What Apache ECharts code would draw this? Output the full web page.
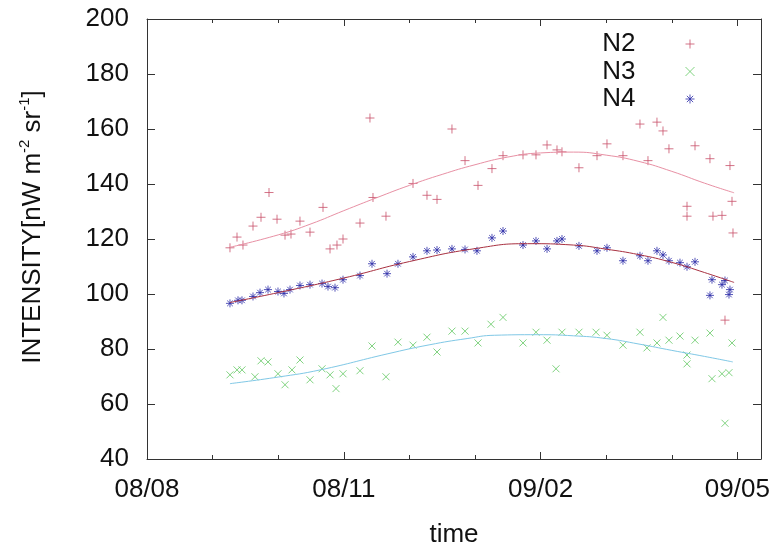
<!DOCTYPE html>
<html>
<head>
<meta charset="utf-8">
<style>
  html, body { margin: 0; padding: 0; background: #fff; }
  #chart { width: 776px; height: 553px; }
</style>
<script src="https://cdn.jsdelivr.net/npm/echarts@6/dist/echarts.min.js"></script>
</head>
<body>
<div id="chart"></div>
<script>
// Time axis runs in sub-tick units: one labelled tick every 3 units.
const xTickLabels = ['08/08', '08/11', '09/02', '09/05'];
const xMax = 9.36;
const yTicks = [40, 60, 80, 100, 120, 140, 160, 180, 200];

// N2 intensity measurements [time, intensity]
const n2Points = [
  [1.265, 116.8], [1.372, 120.7], [1.463, 117.8], [1.616, 124.7], [1.738, 127.9],
  [1.860, 136.9], [1.982, 127.2], [2.104, 121.4], [2.195, 121.8], [2.332, 126.5],
  [2.485, 122.5], [2.683, 131.5], [2.790, 116.4], [2.896, 117.8], [2.988, 120.0],
  [3.247, 125.8], [3.399, 164.0], [3.445, 135.1], [3.643, 128.3], [4.055, 140.2],
  [4.268, 135.9], [4.421, 134.4], [4.649, 160.0], [4.848, 148.5],
  [5.046, 139.5], [5.259, 145.6], [5.427, 150.3], [5.732, 150.6], [5.930, 150.6],
  [6.098, 154.2], [6.250, 152.4], [6.326, 151.7], [6.585, 145.9], [6.860, 150.3],
  [7.012, 154.6], [7.256, 150.3], [7.515, 161.8], [7.637, 148.5], [7.774, 162.5],
  [7.866, 159.3], [7.957, 152.8], [8.232, 131.9], [8.232, 128.3], [8.354, 153.9],
  [8.582, 149.2], [8.628, 128.3], [8.765, 128.6], [8.811, 90.5], [8.887, 146.7],
  [8.918, 133.7], [8.933, 122.2]
];

// N3 intensity measurements
const n3Points = [
  [1.265, 70.6], [1.372, 72.4], [1.448, 72.4], [1.646, 69.9], [1.738, 75.7],
  [1.845, 75.3], [1.997, 71.0], [2.104, 67.0], [2.210, 72.4], [2.332, 76.0],
  [2.485, 68.8], [2.668, 72.8], [2.790, 70.6], [2.881, 65.6], [2.988, 71.0],
  [3.247, 72.1], [3.430, 81.1], [3.643, 69.9], [3.826, 82.5], [4.055, 81.4],
  [4.268, 84.3], [4.421, 78.9], [4.649, 86.5], [4.848, 86.5], [5.046, 82.2],
  [5.244, 89.0], [5.427, 91.5], [5.732, 82.2], [5.930, 86.1], [6.098, 83.2],
  [6.235, 72.8], [6.326, 86.1], [6.585, 86.1], [6.845, 86.1], [7.012, 85.0],
  [7.256, 81.4], [7.515, 86.1], [7.622, 80.4], [7.774, 82.2], [7.866, 91.5],
  [7.957, 83.2], [8.125, 84.7], [8.232, 77.8], [8.232, 74.6], [8.354, 83.2],
  [8.582, 85.8], [8.613, 69.2], [8.765, 71.0], [8.811, 53.0], [8.872, 71.4],
  [8.918, 82.2]
];

// N4 intensity measurements
const n4Points = [
  [1.265, 96.6], [1.387, 97.7], [1.448, 97.7], [1.616, 99.1], [1.723, 100.5],
  [1.845, 101.6], [1.997, 100.9], [2.088, 100.2], [2.180, 101.6], [2.332, 103.1],
  [2.485, 103.4], [2.668, 103.8], [2.759, 102.7], [2.866, 102.3], [2.988, 105.2],
  [3.247, 106.7], [3.430, 111.0], [3.659, 107.4], [3.826, 111.0], [4.055, 113.5],
  [4.268, 115.7], [4.421, 116.0], [4.649, 116.4], [4.848, 116.2], [5.030, 115.7],
  [5.259, 120.4], [5.427, 122.9], [5.732, 117.8], [5.930, 119.3], [6.098, 116.4],
  [6.250, 119.3], [6.326, 120.0], [6.585, 117.5], [6.860, 115.7], [7.012, 116.8],
  [7.256, 112.1], [7.515, 113.9], [7.637, 112.1], [7.774, 115.7], [7.866, 114.2],
  [7.957, 112.1], [8.125, 111.4], [8.232, 109.9], [8.354, 111.7], [8.582, 99.5],
  [8.613, 105.2], [8.765, 103.4], [8.811, 104.9], [8.872, 99.8], [8.887, 101.6]
];

// Smooth fitted trends through each series
const n2Fit = [
  [1.265, 117.0], [2.0, 121.5], [2.5, 125.5], [3.0, 130.3], [3.5, 135.0],
  [4.0, 139.5], [4.5, 143.5], [5.0, 147.0], [5.5, 149.8], [6.0, 151.3],
  [6.5, 151.6], [7.0, 150.5], [7.5, 148.2], [8.0, 144.6], [8.5, 140.3], [8.95, 136.8]
];
const n3Fit = [
  [1.265, 67.4], [2.0, 69.8], [2.64, 72.4], [3.66, 78.2], [4.3, 81.5],
  [4.88, 83.8], [5.3, 85.0], [5.95, 85.2], [6.5, 84.8], [7.0, 83.8],
  [7.5, 81.8], [8.0, 79.5], [8.5, 77.3], [8.93, 75.3]
];
const n4Fit = [
  [1.265, 96.9], [2.0, 100.5], [3.0, 105.8], [4.0, 111.8], [5.0, 116.5],
  [5.8, 118.3], [6.5, 117.8], [7.0, 116.3], [7.5, 114.3], [8.0, 111.5],
  [8.5, 107.8], [8.95, 104.2]
];

const FONT = '"Liberation Sans", Arial, Helvetica, sans-serif';
const PLUS = 'path://M0,5L10,5M5,0L5,10';
const CROSS = 'path://M0,0L10,10M10,0L0,10';
const STAR = 'path://M0,5L10,5M5,0L5,10M1.5,1.5L8.5,8.5M8.5,1.5L1.5,8.5';

const frameLine = { show: true, onZero: false, lineStyle: { color: '#333', width: 1 } };

function xAxisPair(position, withLabels) {
  return [
    {
      type: 'value', position, min: 0, max: xMax, interval: 3,
      axisLine: frameLine,
      axisTick: { show: true, inside: true, length: 7, lineStyle: { color: '#333' } },
      axisLabel: withLabels ? {
        show: true, margin: 18, fontSize: 26, color: '#111', fontFamily: FONT,
        formatter: v => (Math.abs(v % 3) < 1e-9 ? (xTickLabels[v / 3] || '') : '')
      } : { show: false },
      splitLine: { show: false },
      name: withLabels ? 'time' : '',
      nameLocation: 'middle', nameGap: 63,
      nameTextStyle: { fontSize: 26, color: '#111', fontFamily: FONT }
    },
    {
      type: 'value', position, min: 0, max: xMax, interval: 1,
      axisLine: { show: false },
      axisTick: { show: true, inside: true, length: 4, lineStyle: { color: '#333' } },
      axisLabel: { show: false },
      splitLine: { show: false }
    }
  ];
}

const chart = echarts.init(document.getElementById('chart'), null, { renderer: 'canvas' });

chart.setOption({
  animation: false,
  backgroundColor: '#fff',
  textStyle: { fontFamily: FONT },
  grid: { left: 147, right: 15, top: 19, bottom: 90, containLabel: false },
  legend: {
    orient: 'vertical', right: 76, top: 26, align: 'right',
    itemWidth: 9, itemHeight: 9, itemGap: 1.5,
    data: ['N2', 'N3', 'N4'],
    textStyle: { fontSize: 26, lineHeight: 26, color: '#111', fontFamily: FONT, padding: [0, 45, 0, 0] },
    itemStyle: { borderWidth: 1 },
    selectedMode: false
  },
  xAxis: [...xAxisPair('bottom', true), ...xAxisPair('top', false)],
  yAxis: [
    {
      type: 'value', position: 'left', min: yTicks[0], max: yTicks[yTicks.length - 1], interval: 20,
      axisLine: frameLine,
      axisTick: { show: true, inside: true, length: 8, lineStyle: { color: '#333' } },
      axisLabel: { margin: 18, fontSize: 26, color: '#111', fontFamily: FONT },
      splitLine: { show: false },
      name: '{a|INTENSITY[nW m}{s|-2}{a| sr}{s|-1}{a|]}',
      nameLocation: 'middle', nameGap: 98,
      nameTextStyle: {
        padding: [0, 0, 0, 24],
        rich: {
          a: { fontSize: 26, lineHeight: 32, color: '#111', fontFamily: FONT },
          s: { fontSize: 15, lineHeight: 15, color: '#111', fontFamily: FONT, verticalAlign: 'top' }
        }
      }
    },
    {
      type: 'value', position: 'right', min: yTicks[0], max: yTicks[yTicks.length - 1], interval: 20,
      axisLine: frameLine,
      axisTick: { show: true, inside: true, length: 8, lineStyle: { color: '#333' } },
      axisLabel: { show: false },
      splitLine: { show: false }
    }
  ],
  series: [
    {
      name: 'N2', type: 'scatter', data: n2Points, symbol: PLUS, symbolSize: 9,
      itemStyle: { color: '#c8506a', borderColor: '#c8506a', borderWidth: 1 },
      emphasis: { disabled: true }
    },
    {
      name: 'N3', type: 'scatter', data: n3Points, symbol: CROSS, symbolSize: 7,
      itemStyle: { color: '#62c862', borderColor: '#62c862', borderWidth: 1 },
      emphasis: { disabled: true }
    },
    {
      name: 'N4', type: 'scatter', data: n4Points, symbol: STAR, symbolSize: 8,
      itemStyle: { color: '#2a2aa8', borderColor: '#2a2aa8', borderWidth: 1 },
      emphasis: { disabled: true }
    },
    {
      name: 'N2 fit', type: 'line', data: n2Fit, smooth: true, showSymbol: false,
      lineStyle: { color: '#e890a4', width: 1 }, emphasis: { disabled: true }
    },
    {
      name: 'N3 fit', type: 'line', data: n3Fit, smooth: true, showSymbol: false,
      lineStyle: { color: '#80c8e6', width: 1 }, emphasis: { disabled: true }
    },
    {
      name: 'N4 fit', type: 'line', data: n4Fit, smooth: true, showSymbol: false,
      lineStyle: { color: '#a83040', width: 1 }, emphasis: { disabled: true }
    }
  ]
});
</script>
</body>
</html>
